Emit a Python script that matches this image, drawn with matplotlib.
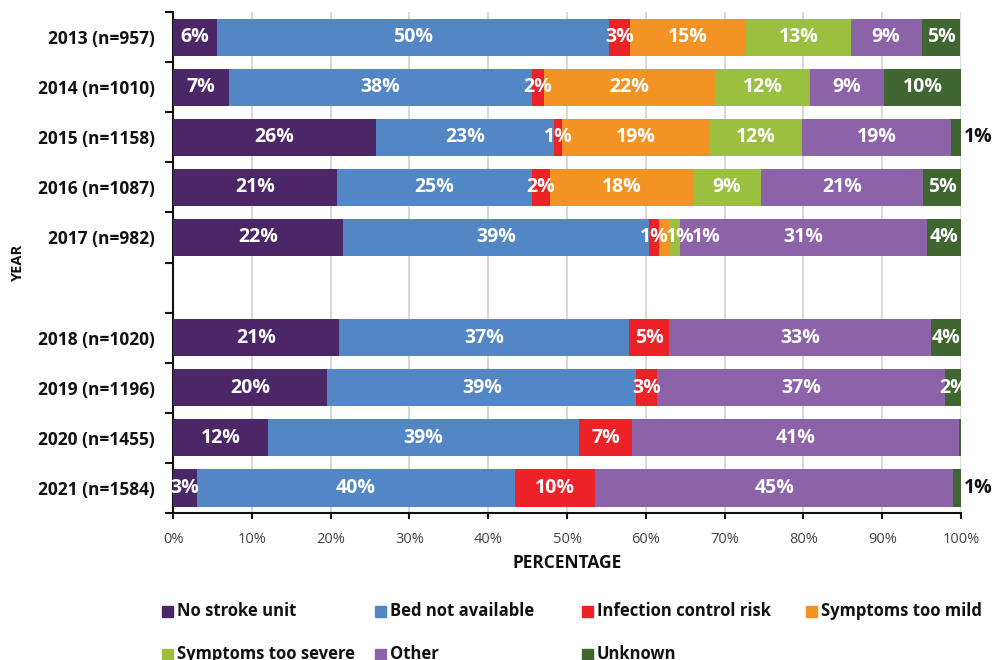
import matplotlib.pyplot as plt
from matplotlib.patches import Rectangle
import numpy as np

plt.rcParams['font.family'] = ['Open Sans', 'DejaVu Sans']

# data (percentages)
years = ["2013 (n=957)", "2014 (n=1010)", "2015 (n=1158)", "2016 (n=1087)", "2017 (n=982)",
         "2018 (n=1020)", "2019 (n=1196)", "2020 (n=1455)", "2021 (n=1584)"]
no_stroke_unit = [5.6, 7.1, 25.8, 20.8, 21.6, 21.1, 19.6, 12.1, 3.0]
bed_not_available = [49.7, 38.4, 22.6, 24.8, 38.8, 36.8, 39.2, 39.4, 40.4]
infection_control = [2.7, 1.6, 1.0, 2.2, 1.3, 5.0, 2.6, 6.8, 10.2]
symptoms_mild = [14.7, 21.7, 18.7, 18.2, 1.2, 0, 0, 0, 0]
symptoms_severe = [13.3, 12.0, 11.7, 8.6, 1.4, 0, 0, 0, 0]
other = [9.0, 9.4, 18.9, 20.6, 31.4, 33.3, 36.6, 41.4, 45.4]
unknown = [4.9, 9.8, 1.3, 4.8, 4.3, 3.8, 2.0, 0.3, 1.0]

series = [
    ("No stroke unit", no_stroke_unit, "#4b2768"),
    ("Bed not available", bed_not_available, "#5286c5"),
    ("Infection control risk", infection_control, "#ec2227"),
    ("Symptoms too mild", symptoms_mild, "#f39324"),
    ("Symptoms too severe", symptoms_severe, "#9bc03f"),
    ("Other", other, "#8c62a9"),
    ("Unknown", unknown, "#3f6531"),
]

# blank row between 2017 and 2018
ypos = np.array(list(range(5)) + list(range(6, 10)))

fig = plt.figure(figsize=(9.92, 6.60), dpi=100)
ax = fig.add_axes([0.1744, 0.2227, 0.7944, 0.7591])

left = np.zeros(len(years))
last_right = np.full(len(years), -10.0)  # right edge of previous label, to nudge crowded ones
for name, vals, col in series:
    vals = np.array(vals, dtype=float)
    ax.barh(ypos, vals, left=left, height=0.74, color=col, zorder=3)
    for i, v in enumerate(vals):
        if v < 0.5:
            continue
        txt = f"{v:.0f}%"
        if name == "Unknown" and v < 1.5:
            ax.text(100.4, ypos[i], txt, ha="left", va="center",
                    color="#111111", fontsize=14, fontweight="bold")
            continue
        w = 1.65 * len(txt)
        cx = left[i] + v / 2
        if cx - w / 2 < last_right[i]:
            cx = last_right[i] + w / 2
        last_right[i] = cx + w / 2
        ax.text(cx, ypos[i], txt, ha="center", va="center",
                color="white", fontsize=14, fontweight="bold", zorder=4)
    left += vals

ax.set_xlim(0, 100)
ax.set_ylim(9.5, -0.5)
ax.set_xticks(np.arange(0, 101, 10))
ax.set_xticklabels([f"{t}%" for t in range(0, 101, 10)], fontsize=10.5, color="#444444")
ax.set_yticks(ypos)
ax.set_yticklabels(years, fontsize=12.5, fontweight="bold", color="#111111")
ax.set_yticks(np.arange(-0.5, 10, 1), minor=True)
ax.tick_params(axis="y", which="major", length=0, pad=13)
ax.tick_params(axis="y", which="minor", length=6, width=1.5, color="#111111")
ax.tick_params(axis="x", length=4, width=1.5, color="#111111", pad=10)
ax.grid(axis="x", color="#d9d9d9", linewidth=1.5, zorder=0)
for s in ["top", "right"]:
    ax.spines[s].set_visible(False)
for s in ["left", "bottom"]:
    ax.spines[s].set_linewidth(1.5)
    ax.spines[s].set_color("#111111")

ax.set_xlabel("PERCENTAGE", fontsize=12.5, fontweight="bold", color="#111111", labelpad=5)
fig.text(0.018, 0.603, "YEAR", rotation=90, ha="center", va="center",
         fontsize=10.5, fontweight="bold", color="#111111")

# legend laid out by hand (two rows, uneven columns)
leg_x = [162, 375, 582, 806, 162, 375, 582]
leg_y = [611, 611, 611, 611, 654, 654, 654]
for (name, vals, col), lx, ly in zip(series, leg_x, leg_y):
    fig.add_artist(Rectangle((lx / 992, 1 - (ly + 5.5) / 660), 11 / 992, 11 / 660,
                             transform=fig.transFigure, color=col))
    fig.text((lx + 15) / 992, 1 - ly / 660, name, ha="left", va="center",
             fontsize=12, fontweight="bold", color="#111111")

fig.savefig("out.png", dpi=100)
